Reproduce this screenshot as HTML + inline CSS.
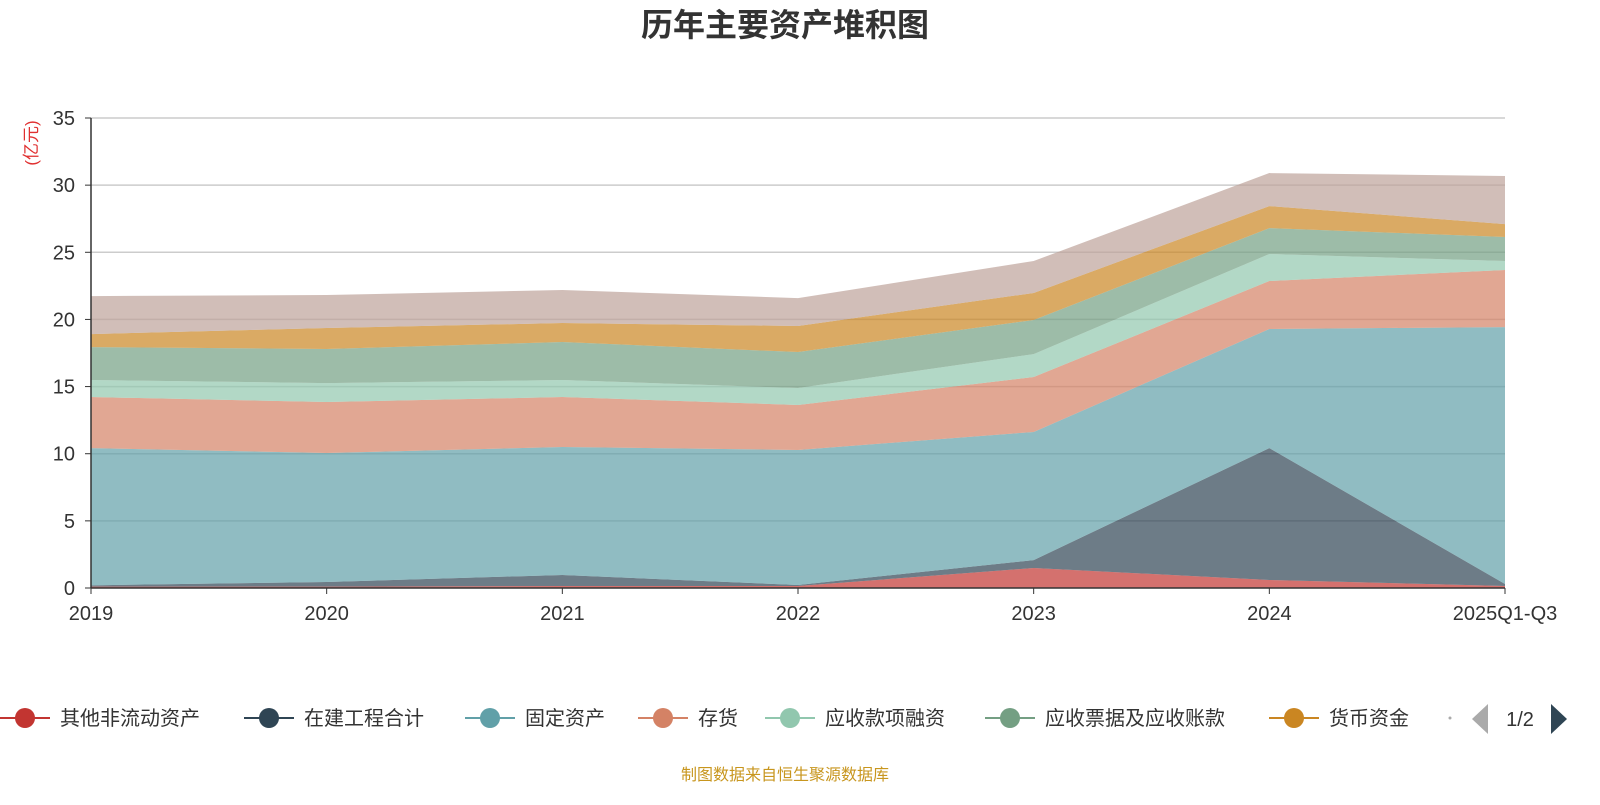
<!DOCTYPE html>
<html><head><meta charset="utf-8"><style>
body{margin:0;width:1600px;height:800px;background:#fff;overflow:hidden;font-family:"Liberation Sans","Noto Sans CJK SC",sans-serif}
</style></head><body>
<svg id="c" width="1600" height="800" xmlns="http://www.w3.org/2000/svg">
<text x="785" y="36" text-anchor="middle" font-size="32" font-weight="bold" fill="#333" font-family="Liberation Sans,Noto Sans CJK SC,sans-serif">历年主要资产堆积图</text>
<text transform="translate(37,143) rotate(-90)" text-anchor="middle" font-size="17" fill="#e03030" font-family="Liberation Sans,Noto Sans CJK SC,sans-serif">(亿元)</text>
<g id="grid"></g><g id="areas"></g><g id="axes"></g><g id="legend"></g>
<text x="785" y="780" text-anchor="middle" font-size="16" fill="#c8961e" font-family="Liberation Sans,Noto Sans CJK SC,sans-serif">制图数据来自恒生聚源数据库</text>
</svg>
<script>
const categories=["2019","2020","2021","2022","2023","2024","2025Q1-Q3"];
const seriesNames=["其他非流动资产","在建工程合计","固定资产","存货","应收款项融资","应收票据及应收账款","货币资金","其他"];
const sOther=[0.1,0.1,0.15,0.15,1.49,0.6,0.15];
const sConstr=[0.1,0.35,0.82,0.07,0.59,9.82,0.15];
const sFixed=[10.22,9.6,9.53,10.06,9.54,8.87,19.13];
const sInv=[3.8,3.8,3.72,3.35,4.09,3.57,4.25];
const sRecvFin=[1.27,1.41,1.27,1.26,1.71,2.01,0.67];
const sNotes=[2.45,2.54,2.83,2.68,2.54,1.93,1.79];
const sCash=[0.97,1.56,1.41,1.94,2.01,1.64,0.96];
const sTop=[2.83,2.46,2.46,2.08,2.38,2.46,3.58];
const yTicks=[0,5,10,15,20,25,30,35];
const colors=["#c23531","#2f4554","#61a0a8","#d48265","#91c7ae","#749f83","#ca8622","#bda29a"];
const NS="http://www.w3.org/2000/svg";
const X0=91,X1=1505,Y0=588,Y1=118,YMAX=35;
const xs=i=>X0+(X1-X0)*i/(categories.length-1);
const ys=v=>Y0-(Y0-Y1)*v/YMAX;
function mk(t,a,p){const e=document.createElementNS(NS,t);for(const k in a)e.setAttribute(k,a[k]);p.appendChild(e);return e;}
const grid=document.getElementById('grid'),axes=document.getElementById('axes'),areas=document.getElementById('areas'),leg=document.getElementById('legend');
yTicks.forEach(v=>{
 if(v>0){const l=mk('line',{x1:X0,x2:X1,y1:ys(v),y2:ys(v),stroke:'#ccc','stroke-width':1.5},grid);
 
 }
 mk('line',{x1:X0-6,x2:X0,y1:ys(v),y2:ys(v),stroke:'#333'},axes);
 const t=mk('text',{x:X0-16,y:ys(v)+7,'text-anchor':'end','font-size':20,fill:'#333'},axes);t.textContent=v;
 
 
});
const all=[sOther,sConstr,sFixed,sInv,sRecvFin,sNotes,sCash,sTop];
let base=categories.map(()=>0);
all.forEach((s,k)=>{
 const top=base.map((b,i)=>b+s[i]);
 let d='M'+top.map((v,i)=>xs(i)+','+ys(v)).join('L');
 for(let i=base.length-1;i>=0;i--)d+='L'+xs(i)+','+ys(base[i]);
 const p=mk('path',{d:d+'Z',fill:colors[k],'fill-opacity':0.7},areas);
 
 
 base=top;
});
mk('line',{x1:X0,x2:X0,y1:Y1,y2:Y0,stroke:'#333','stroke-width':1.5},axes);
mk('line',{x1:X0,x2:X1,y1:Y0,y2:Y0,stroke:'#333','stroke-width':1.5},axes);
categories.forEach((c,i)=>{
 mk('line',{x1:xs(i),x2:xs(i),y1:Y0,y2:Y0+6,stroke:'#333'},axes);
 const t=mk('text',{x:xs(i),y:620,'text-anchor':'middle','font-size':20,fill:'#333'},axes);t.textContent=c;
 
 
});
const lx=[25,269,490,663,790,1010,1294];
for(let k=0;k<7;k++){
 const g=mk('g',{},leg);
 
 
 mk('line',{x1:lx[k]-25,x2:lx[k]+25,y1:718,y2:718,stroke:colors[k],'stroke-width':2},g);
 mk('circle',{cx:lx[k],cy:718,r:10,fill:colors[k]},g);
 const t=mk('text',{x:lx[k]+35,y:725,'font-size':20,fill:'#333'},g);t.textContent=seriesNames[k];
}
mk('circle',{cx:1450,cy:718,r:1.5,fill:'#aaa'},leg);
const a1=mk('path',{d:'M1488,704L1472,719L1488,734Z',fill:'#aaa'},leg);


const pg=mk('text',{x:1520,y:726,'text-anchor':'middle','font-size':20,fill:'#333'},leg);pg.textContent='1/2';
const a2=mk('path',{d:'M1551,704L1567,719L1551,734Z',fill:'#2f4554'},leg);


</script>
</body></html>
